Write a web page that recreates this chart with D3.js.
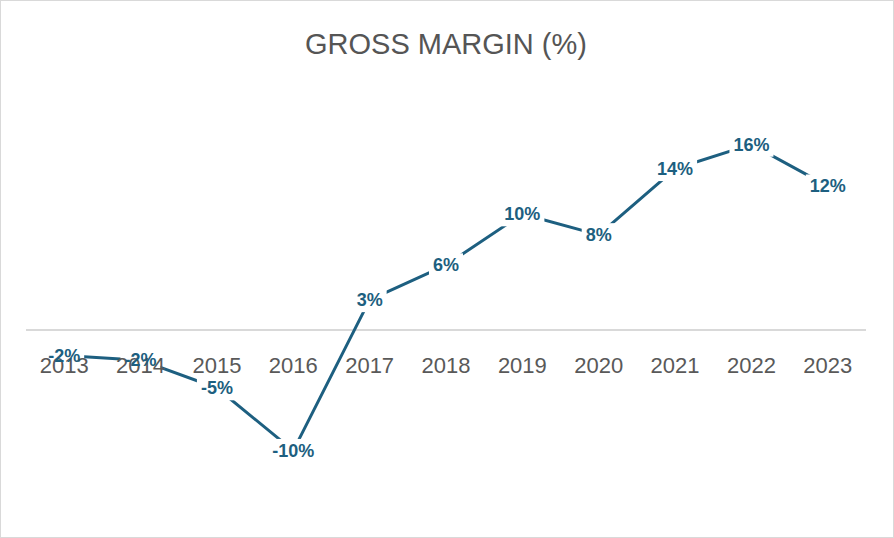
<!DOCTYPE html>
<html><head><meta charset="utf-8">
<script src="https://cdn.jsdelivr.net/npm/d3@7"></script>
<style>html,body{margin:0;padding:0;background:#fff;}svg{display:block;}</style>
</head><body>
<script>
const years = ["2013","2014","2015","2016","2017","2018","2019","2020","2021","2022","2023"];
const margins = [-2.2, -2.6, -5.0, -10.4, 2.6, 5.6, 10.0, 8.2, 13.9, 16.0, 12.4];
const labels = ["-2%","-2%","-5%","-10%","3%","6%","10%","8%","14%","16%","12%"];
const title = "GROSS MARGIN (%)";

const W = 894, H = 538;
const svg = d3.select("body").append("svg").attr("width", W).attr("height", H);
svg.append("rect").attr("x",0.5).attr("y",0.5).attr("width",W-1).attr("height",H-1)
  .attr("fill","#fff").attr("stroke","#d9d9d9");

svg.append("text").attr("x", 446).attr("y", 54).attr("text-anchor","middle")
  .attr("font-family","Liberation Sans, Arial, sans-serif").attr("font-size", 29)
  .attr("fill","#555").text(title);

const x = d3.scaleBand().domain(years).range([26, 866]);
const y = d3.scaleLinear().domain([-15, 20]).range([504, 98]);
const cx = d => x(d) + x.bandwidth()/2;

svg.append("line").attr("x1", 26).attr("x2", 866).attr("y1", y(0)).attr("y2", y(0))
  .attr("stroke","#d9d9d9").attr("stroke-width", 2);

const color = "#1d5f80";
const line = d3.line().x((d,i) => cx(years[i])).y(d => y(d));
svg.append("path").datum(margins).attr("d", line).attr("fill","none")
  .attr("stroke", color).attr("stroke-width", 3).attr("stroke-linejoin","round");

const fs = 18;
const bg = svg.append("g");
const axisG = svg.append("g");
const lg = svg.append("g");

const tx = lg.selectAll("text").data(margins).join("text")
  .attr("x", (d,i) => cx(years[i])).attr("y", d => y(d))
  .attr("dy", "0.35em").attr("text-anchor","middle")
  .attr("font-family","Liberation Sans, Arial, sans-serif").attr("font-size", fs)
  .attr("font-weight","bold").attr("fill", color).text((d,i) => labels[i]);
tx.each(function(){
  const b = this.getBBox();
  bg.append("rect").attr("x", b.x-4).attr("y", b.y-2).attr("width", b.width+8).attr("height", b.height+4).attr("fill","#fff");
});

axisG.selectAll("text").data(years).join("text")
  .attr("x", d => cx(d)).attr("y", y(0) + 43).attr("text-anchor","middle")
  .attr("font-family","Liberation Sans, Arial, sans-serif").attr("font-size", 22)
  .attr("fill","#595959").text(d => d);
</script>
</body></html>
